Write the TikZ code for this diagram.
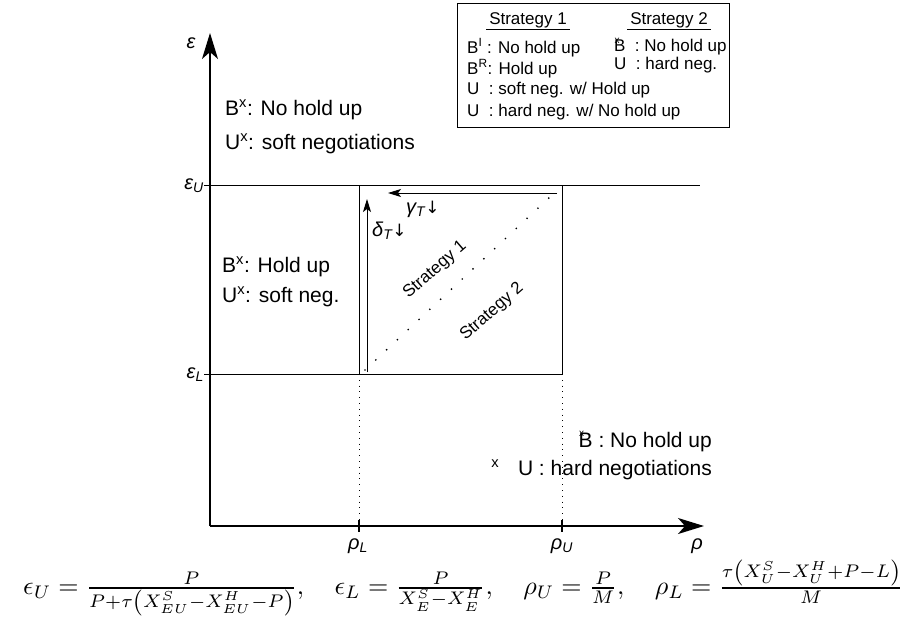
\documentclass[tikz,border=0pt]{standalone}
\usepackage[no-math]{fontspec}
\usepackage{graphicx}
\setmainfont{Liberation Sans}
\newfontfamily\symfont{DejaVu Sans}
\usetikzlibrary{arrows.meta}
\newcommand\xsupB{\makebox[0pt][l]{\kern0.5pt\raisebox{0.5em}{\fontsize{10}{10}\selectfont x}}B}
\begin{document}
\begin{tikzpicture}[x=1pt,y=-1pt,
  axisline/.style={line width=1.6pt},
  frameline/.style={line width=0.9pt},
  bigtip/.style={-{Stealth[length=26pt,width=16pt,inset=7pt]}},
  smalltip/.style={-{Stealth[length=13pt,width=8pt,inset=3pt]}},
  dotline/.style={line width=0.8pt, dash pattern=on 0.8pt off 5pt},
  diagdots/.style={line width=1.9pt, line cap=round, dash pattern=on 0pt off 14.8pt},
  lbl/.style={font=\fontsize{21}{25}\selectfont, inner sep=0pt},
  axlbl/.style={font=\fontsize{20}{24}\selectfont\itshape, inner sep=0pt},
  legtxt/.style={font=\fontsize{17}{20}\selectfont, inner sep=0pt},
]
\useasboundingbox (0,0) rectangle (909,616);

% axes
\coordinate (O) at (210,526);
\coordinate (ytop) at (210,33);
\coordinate (xend) at (704,526);
\draw[axisline,bigtip] (O) -- (ytop);
\draw[axisline,bigtip] (O) -- (xend);

% region lines
\coordinate (eUtick) at (204,185);
\coordinate (eUend) at (700,185);
\coordinate (eLtick) at (204,374);
\coordinate (A) at (359,374);
\coordinate (B) at (562,374);
\coordinate (C) at (562,185);
\coordinate (D) at (359,185);
\coordinate (rL) at (359,520);
\coordinate (rU) at (562,520);
\coordinate (rLt) at (359,520);
\coordinate (rLb) at (359,532);
\coordinate (rUt) at (562,520);
\coordinate (rUb) at (562,532);
\draw[frameline] (eUtick) -- (eUend);
\draw[frameline] (eLtick) -- (B);
\draw[frameline] (A) -- (D);
\draw[frameline] (B) -- (C);
\draw[dotline] (A) -- (rL);
\draw[dotline] (B) -- (rU);
\draw[axisline] (rLt) -- (rLb);
\draw[axisline] (rUt) -- (rUb);

% inner arrows
\coordinate (va0) at (367,372);
\coordinate (va1) at (367,199);
\coordinate (ha0) at (557,193);
\coordinate (ha1) at (388,193);
\draw[frameline,smalltip] (va0) -- (va1);
\draw[frameline,smalltip] (ha0) -- (ha1);

% diagonal
\coordinate (d0) at (365,370);
\coordinate (d1) at (552,195);
\draw[diagdots] (d0) -- (d1);

% axis labels
\node[axlbl] (eps) at (191,43) {ε};
\node[axlbl,anchor=base east] (epsU) at (204,189) {ε\textsubscript{U}};
\node[axlbl,anchor=base east] (epsL) at (204,378) {ε\textsubscript{L}};
\node[axlbl,anchor=base] (rhoL) at (358,549) {ρ\textsubscript{L}};
\node[axlbl,anchor=base] (rhoU) at (562,549) {ρ\textsubscript{U}};
\node[axlbl,anchor=base] (rho) at (697,549) {ρ};
\node[axlbl,anchor=west] (delta) at (372,231) {δ\textsubscript{T}{\upshape\symfont\fontsize{17}{20}\selectfont ↓}};
\node[axlbl,anchor=west] (gamma) at (406,209) {γ\textsubscript{T}{\upshape\symfont\fontsize{17}{20}\selectfont ↓}};

% region texts
\node[lbl,anchor=base west] (t1) at (225,115.5) {B\textsuperscript{x}: No hold up};
\node[lbl,anchor=base west] (t2) at (225,149.5) {U\textsuperscript{x}: soft negotiations};
\node[lbl,anchor=base west] (t3) at (222,272.5) {B\textsuperscript{x}: Hold up};
\node[lbl,anchor=base west] (t4) at (222,302.5) {U\textsuperscript{x}: soft neg.};
\node[lbl,anchor=base east] (t5) at (712,447) {\xsupB\ : No hold up};
\node[lbl,anchor=base east] (t6) at (712,475) {\textsuperscript{x}\hspace{0.9em}U : hard negotiations};

\node[legtxt,rotate=41] (s1) at (435,270) {Strategy 1};
\node[legtxt,rotate=41] (s2) at (492,312) {Strategy 2};

% legend
\node[draw,frameline,anchor=north west,minimum width=272pt,minimum height=124pt,inner sep=0pt] (legend) at (457,3) {};
\node[legtxt,anchor=base] (h1) at (528,24) {\underline{\,Strategy 1\,}};
\node[legtxt,anchor=base] (h2) at (669,24) {\underline{\,Strategy 2\,}};
\node[legtxt,anchor=base west] (l1) at (467,53) {B\textsuperscript{I} : No hold up};
\node[legtxt,anchor=base west] (l2) at (467,74) {B\textsuperscript{R}: Hold up};
\node[legtxt,anchor=base west] (l3) at (467,94.5) {U\ \ : soft neg. w/ Hold up};
\node[legtxt,anchor=base west] (l4) at (467,116) {U\ \ : hard neg. w/ No hold up};
\node[legtxt,anchor=base west] (r1) at (614,51.5) {\xsupB\ \ : No hold up};
\node[legtxt,anchor=base west] (r2) at (614,69.5) {U\ \ : hard neg.};

% formula
\node[anchor=west,inner sep=0pt] (formula) at (23,588) {\resizebox{880pt}{!}{$\epsilon_U=\frac{P}{P+\tau\left(X^S_{EU}-X^H_{EU}-P\right)},\quad \epsilon_L=\frac{P}{X^S_E-X^H_E},\quad \rho_U=\frac{P}{M},\quad \rho_L=\frac{\tau\left(X^S_U-X^H_U+P-L\right)}{M}$}};
\end{tikzpicture}
\end{document}
